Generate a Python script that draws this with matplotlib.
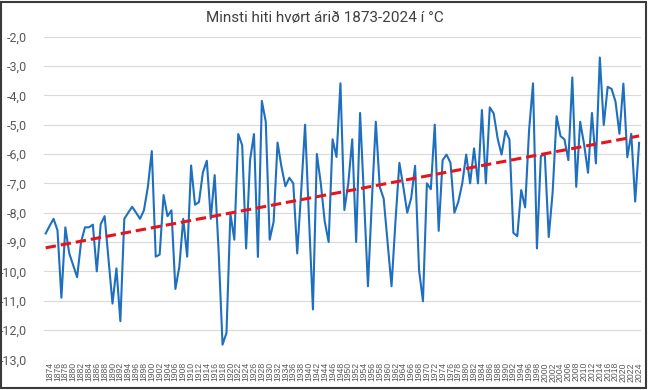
import numpy as np
import matplotlib
matplotlib.use("Agg")
import matplotlib.pyplot as plt
from matplotlib.ticker import FuncFormatter
from matplotlib.patches import Rectangle

plt.rcParams['font.family'] = ['Roboto', 'DejaVu Sans']

# Lægsti hiti hvers árs, 1873-2024
years = list(range(1873, 2025))
min_temp = [
    -8.71, -8.45, -8.21, -8.6, -10.9, -8.5, -9.39, -9.8, -10.2, -9.0,
    -8.5, -8.5, -8.41, -10.0, -8.39, -8.12, -9.6, -11.1, -9.9, -11.7,
    -8.21, -8.0, -7.8, -8.0, -8.21, -7.92, -7.12, -5.9, -9.5, -9.43,
    -7.4, -8.12, -7.92, -10.6, -9.85, -8.21, -9.5, -6.39, -7.73, -7.64,
    -6.63, -6.23, -8.21, -6.72, -9.3, -12.5, -12.1, -8.03, -8.92, -5.32,
    -5.7, -9.22, -6.21, -5.32, -9.51, -4.19, -4.9, -8.92, -8.31, -5.61,
    -6.44, -7.1, -6.81, -7.0, -9.39, -7.3, -5.0, -8.2, -11.3, -6.0,
    -7.0, -8.3, -9.0, -5.5, -6.1, -3.59, -7.91, -7.0, -5.5, -9.0,
    -4.6, -7.5, -10.51, -7.6, -4.9, -7.12, -7.52, -9.0, -10.51, -8.3,
    -6.3, -7.12, -8.0, -7.5, -6.4, -9.96, -11.02, -7.0, -7.2, -5.0,
    -8.62, -6.21, -6.02, -6.3, -8.0, -7.63, -7.0, -6.02, -7.0, -5.81,
    -7.0, -4.5, -7.0, -4.41, -4.62, -5.47, -6.02, -5.21, -5.5, -8.69,
    -8.8, -7.23, -7.82, -5.19, -3.59, -9.22, -6.07, -6.02, -8.83, -7.3,
    -4.71, -5.39, -5.5, -6.21, -3.39, -7.12, -4.9, -5.67, -6.64, -4.6,
    -6.32, -2.71, -5.01, -3.71, -3.78, -4.22, -5.31, -3.6, -6.11, -5.31,
    -7.62, -5.62,
]
tick_years = list(range(1874, 2025, 2))
y_ticks = [-13, -12, -11, -10, -9, -8, -7, -6, -5, -4, -3, -2]

fig = plt.figure(figsize=(6.49, 3.9), dpi=100)
ax = fig.add_axes([44 / 649, 1 - 359.3 / 390, 597 / 649, (359.3 - 36.7) / 390])

ax.plot(years, min_temp, color='#1F6FBF', lw=1.5, zorder=3)

# línuleg leitni
coef = np.polyfit(years, min_temp, 1)
trend = np.polyval(coef, years)
ax.plot(years, trend, color='#E8141B', lw=2.2, ls=(0, (3.4, 1.6)), zorder=4)

ax.set_xlim(1872.57, 2024.48)
ax.set_ylim(-13, -2)
ax.set_yticks(y_ticks)
ax.yaxis.set_major_formatter(FuncFormatter(lambda v, p: f'{v:.1f}'.replace('.', ',')))
ax.set_xticks(tick_years)
ax.set_xticklabels([str(y) for y in tick_years], rotation=90, fontsize=6.2,
                   color='#595959', family=['Liberation Sans', 'DejaVu Sans'])
ax.tick_params(axis='y', labelsize=9, colors='#595959', length=0, pad=12)
ax.tick_params(axis='x', length=0, pad=2)
ax.grid(axis='y', color='#D9D9D9', lw=0.8)
ax.set_axisbelow(True)
for s in ax.spines.values():
    s.set_visible(False)

fig.text(0.5, 1 - 18 / 390, 'Minsti hiti hvørt árið 1873-2024 í °C', ha='center', va='center',
         fontsize=11, color='#404040')

fig.patches.append(Rectangle((0.002, 0.004), 0.994, 0.992, transform=fig.transFigure,
                             fill=False, edgecolor='#3A3A3A', lw=1.5))

fig.savefig('out.png', dpi=100)
